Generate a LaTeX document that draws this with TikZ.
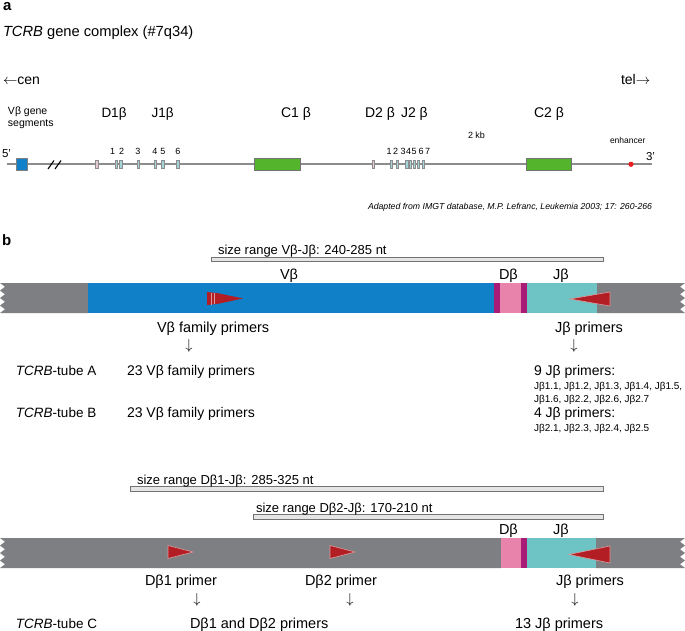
\documentclass[tikz,border=0pt]{standalone}
\usepackage{fontspec}
\setmainfont{Liberation Sans}
\definecolor{bgray}{RGB}{125,127,130}
\definecolor{vblue}{RGB}{16,128,200}
\definecolor{dmag}{RGB}{168,28,120}
\definecolor{dpink}{RGB}{232,132,172}
\definecolor{jcyan}{RGB}{110,196,196}
\definecolor{pred}{RGB}{178,30,36}
\definecolor{cgreen}{RGB}{84,180,44}
\definecolor{lgray}{RGB}{140,140,140}
\definecolor{segpink}{RGB}{228,200,212}
\definecolor{segcyan}{RGB}{165,212,216}
\definecolor{enhred}{RGB}{235,30,30}
\begin{document}
\begin{tikzpicture}[x=1pt,y=-1pt,
  every node/.style={inner sep=0pt,outer sep=0pt},
  lbl/.style={anchor=base west,font=\fontsize{14}{16}\selectfont},
  tl/.style={anchor=base west,font=\fontsize{13.5}{15}\selectfont},
  gl/.style={anchor=base west,font=\fontsize{13.5}{15}\selectfont},
  pl/.style={anchor=base west,font=\fontsize{14.5}{16}\selectfont},
  sm/.style={anchor=base west,font=\fontsize{10}{12}\selectfont},
  tinyl/.style={anchor=base west,font=\fontsize{8.5}{10}\selectfont},
  num/.style={anchor=base,font=\fontsize{9}{11}\selectfont},
  head/.style={anchor=base west,font=\bfseries\fontsize{15}{17}\selectfont},
  dnarr/.style={anchor=center,font=\fontsize{14}{16}\selectfont},
  srl/.style={anchor=base west,font=\fontsize{13}{15}\selectfont},
  sizebar/.style={fill=black!10,draw=black!55,line width=0.8pt},
  seg/.style={draw=black!45,line width=0.4pt},
  gbox/.style={fill=cgreen,draw=black!55,line width=1pt},
  primer/.style={fill=pred,draw=white!55!pred,line width=0.6pt}]
\useasboundingbox (0,0) rectangle (685,631);
\fill[white] (0,0) rectangle (685,631);

% ---------------- panel a ----------------
\node[head] (la) at (3,10.5) {a};
\node[anchor=base west,font=\fontsize{14.7}{17}\selectfont] (title) at (3,37) {\textit{TCRB} gene complex (\#7q34)};
\node[lbl] (cen) at (3,85) {$\leftarrow$cen};
\node[lbl] (tel) at (621,85) {tel$\rightarrow$};
\node[anchor=base west,font=\fontsize{10.5}{12}\selectfont] (vseg1) at (8,115) {Vβ gene};
\node[anchor=base west,font=\fontsize{10.5}{12}\selectfont] (vseg2) at (8,126.5) {segments};
\node[gl] (d1) at (101.5,117.5) {D1β};
\node[gl] (j1) at (151.5,117.5) {J1β};
\node[lbl] (c1) at (281,117.5) {C1 β};
\node[lbl] (d2j2) at (365,117.5) {D2 β\, J2 β};
\node[lbl] (c2) at (534,117.5) {C2 β};
\node[num] (kb) at (476.5,138.5) {2 kb};
\node[tinyl] (enh) at (610,144) {enhancer};
\node[anchor=base west,font=\fontsize{11.5}{13}\selectfont] (p5) at (2,158) {5'};
\node[anchor=base west,font=\fontsize{11.5}{13}\selectfont] (p3) at (646,161) {3'};

\coordinate (ls) at (7,164.3);
\coordinate (le) at (652,164.3);
\draw[lgray,line width=1.8pt] (ls) -- (le);
% V segment box
\draw[fill=vblue,draw=black!50,line width=0.6pt] (16,158.5) rectangle (27,170);
% break marks
\draw[black,line width=1.1pt] (48,169) -- (54,160.5) (55,169) -- (61,160.5);
% D1 / J1
\draw[seg,fill=segpink] (95.5,160.5) rectangle (98,168.5);
\foreach \x in {116,120.7,138,155,162.7,177.7}
  \draw[seg,fill=segcyan] (\x-1.3,160.5) rectangle (\x+1.3,168.5);
\foreach \x/\t in {112.7/1,121.7/2,138/3,155/4,163/5,178/6}
  \node[num] at (\x,155) {\t};
% C1
\draw[gbox] (254.3,158.3) rectangle (300,170.3);
% D2 / J2
\draw[seg,fill=segpink] (372,160.5) rectangle (374.6,168.5);
\foreach \x in {391,397.3,406.7,410.3,414.3,418.3,423.3}
  \draw[seg,fill=segcyan] (\x-1.3,160.5) rectangle (\x+1.3,168.5);
\foreach \x/\t in {389/1,395.5/2,403/3,408.5/4,414/5,421/6,427.5/7}
  \node[num] at (\x,155) {\t};
% C2
\draw[gbox] (526,158.3) rectangle (571,170.3);
% enhancer
\fill[enhred] (631,164.3) circle (2.6);
\node[anchor=base west,font=\itshape\fontsize{8.7}{10}\selectfont] (src) at (368,210) {Adapted from IMGT database, M.P. Lefranc, Leukemia 2003; 17: 260-266};

% ---------------- panel b ----------------
\node[head] (lb) at (2,245) {b};
\draw[sizebar] (211,257) rectangle (603,261.3);
\node[srl] (srv) at (218,254.5) {size range Vβ-Jβ: 240-285 nt};
\node[pl] (vb) at (280,279.5) {Vβ};
\node[pl] (dbl) at (499,279.5) {Dβ};
\node[pl] (jbl) at (553,279.5) {Jβ};
% bar
\fill[bgray] (88,283) -- (0,283) foreach \i in {0,...,3} { -- (5,{283+7.5*\i+3.75}) -- (0,{283+7.5*\i+7.5}) } -- (88,313) -- cycle;
\fill[bgray] (597,283) -- (685,283) foreach \i in {0,...,3} { -- (680,{283+7.5*\i+3.75}) -- (685,{283+7.5*\i+7.5}) } -- (597,313) -- cycle;
\fill[vblue] (88,283) rectangle (493.5,313);
\fill[dmag] (493.5,283) rectangle (500,313);
\fill[dpink] (500,283) rectangle (521,313);
\fill[dmag] (521,283) rectangle (527,313);
\fill[jcyan] (527,283) rectangle (597,313);
% primers
\fill[pred] (207,292) -- (217,293) -- (243,298.5) -- (217,304) -- (207,305) -- cycle;
\draw[white!55!pred,line width=0.8pt] (211,292.5) -- (211,304.5) (214.5,292.8) -- (214.5,304.2);
\draw[primer] (610,292) -- (570,299) -- (610,306) -- cycle;
\node[pl] (vfp) at (157,332) {Vβ family primers};
\node[pl] (jp) at (555,332) {Jβ primers};
\node[dnarr] (a1) at (189,346) {$\downarrow$};
\node[dnarr] (a2) at (574,346) {$\downarrow$};
\node[tl] (ta) at (16,375) {\textit{TCRB}-tube A};
\node[lbl] (ta2) at (127,375) {23 Vβ family primers};
\node[lbl] (ta3) at (534,375) {9 Jβ primers:};
\node[sm] (ta4) at (534,389) {Jβ1.1, Jβ1.2, Jβ1.3, Jβ1.4, Jβ1.5,};
\node[sm] (ta5) at (534,402) {Jβ1.6, Jβ2.2, Jβ2.6, Jβ2.7};
\node[tl] (tb) at (16,417) {\textit{TCRB}-tube B};
\node[lbl] (tb2) at (127,417) {23 Vβ family primers};
\node[lbl] (tb3) at (534,417) {4 Jβ primers:};
\node[sm] (tb4) at (534,431) {Jβ2.1, Jβ2.3, Jβ2.4, Jβ2.5};

% ---------------- panel c ----------------
\draw[sizebar] (130,486.5) rectangle (603,491);
\node[srl] (sr1) at (137,484) {size range Dβ1-Jβ: 285-325 nt};
\draw[sizebar] (253,514.5) rectangle (603,519);
\node[srl] (sr2) at (256,512) {size range Dβ2-Jβ: 170-210 nt};
\node[pl] (dbl2) at (499,534) {Dβ};
\node[pl] (jbl2) at (553,534) {Jβ};
\fill[bgray] (501,538) -- (0,538) foreach \i in {0,...,3} { -- (5,{538+7.5*\i+3.75}) -- (0,{538+7.5*\i+7.5}) } -- (501,568) -- cycle;
\fill[bgray] (596,538) -- (685,538) foreach \i in {0,...,3} { -- (680,{538+7.5*\i+3.75}) -- (685,{538+7.5*\i+7.5}) } -- (596,568) -- cycle;
\fill[dpink] (501,538) rectangle (521,568);
\fill[dmag] (521,538) rectangle (527,568);
\fill[jcyan] (527,538) rectangle (596,568);
\draw[primer] (168,545.5) -- (193,552) -- (168,558.5) -- cycle;
\draw[primer] (330,545.5) -- (355,552) -- (330,558.5) -- cycle;
\draw[primer] (610,546) -- (569,554.5) -- (610,563) -- cycle;
\node[pl] (d1p) at (145,585) {Dβ1 primer};
\node[pl] (d2p) at (305,585) {Dβ2 primer};
\node[pl] (jp2) at (556,585) {Jβ primers};
\node[dnarr] (a3) at (197,600) {$\downarrow$};
\node[dnarr] (a4) at (350,600) {$\downarrow$};
\node[dnarr] (a5) at (575,600) {$\downarrow$};
\node[tl] (tc) at (16,628) {\textit{TCRB}-tube C};
\node[pl] (tc2) at (190,628) {Dβ1 and Dβ2 primers};
\node[pl] (tc3) at (515,628) {13 Jβ primers};
\end{tikzpicture}
\end{document}
